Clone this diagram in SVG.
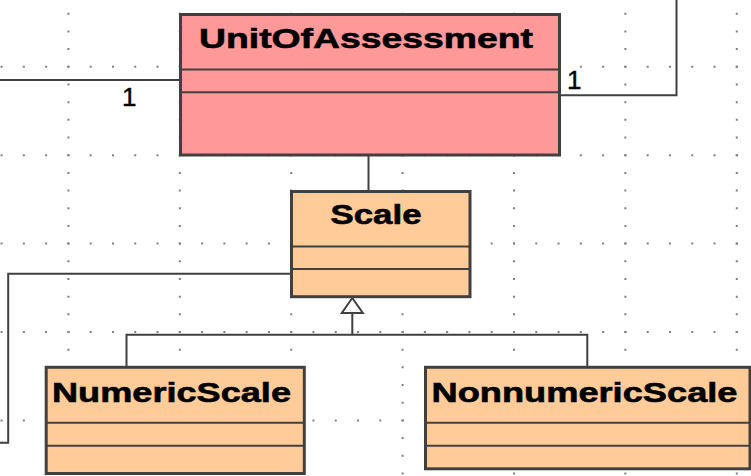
<svg xmlns="http://www.w3.org/2000/svg" width="751" height="476" viewBox="0 0 751 476">
<style>
.gh{stroke:#808080;stroke-width:2;stroke-dasharray:2 20.28;fill:none}
.gv{stroke:#808080;stroke-width:2;stroke-dasharray:2 15.68;fill:none}
.ln{stroke:#404040;stroke-width:2;fill:none}
.box{stroke:#404040;stroke-width:3}
.div{stroke:#404040;stroke-width:2;fill:none}
.pink{fill:#FF9999}
.orange{fill:#FFCC99}
.title{font-family:"Liberation Sans",Arial,sans-serif;font-weight:bold;font-size:28px;fill:#000;stroke:#000;stroke-width:0.6}
.mult{font-family:"Liberation Sans",Arial,sans-serif;font-size:26px;fill:#000;stroke:#000;stroke-width:0.4}
</style>
<rect x="0" y="0" width="751" height="476" fill="#ffffff"/>
<g id="grid">
<line class="gh" x1="0.56" y1="66.8" x2="751" y2="66.8"/>
<line class="gh" x1="0.56" y1="155.2" x2="751" y2="155.2"/>
<line class="gh" x1="0.56" y1="243.6" x2="751" y2="243.6"/>
<line class="gh" x1="0.56" y1="332" x2="751" y2="332"/>
<line class="gh" x1="0.56" y1="420.4" x2="751" y2="420.4"/>
<line class="gv" x1="68.4" y1="12.76" x2="68.4" y2="476"/>
<line class="gv" x1="179.8" y1="12.76" x2="179.8" y2="476"/>
<line class="gv" x1="291.2" y1="12.76" x2="291.2" y2="476"/>
<line class="gv" x1="402.6" y1="12.76" x2="402.6" y2="476"/>
<line class="gv" x1="514" y1="12.76" x2="514" y2="476"/>
<line class="gv" x1="625.4" y1="12.76" x2="625.4" y2="476"/>
<line class="gv" x1="736.8" y1="12.76" x2="736.8" y2="476"/>
</g>
<g id="connectors">
<polyline class="ln" points="0,80 180,80"/>
<polyline class="ln" points="560,95.3 676.5,95.3 676.5,0"/>
<polyline class="ln" points="368.5,155 368.5,191"/>
<polyline class="ln" points="291,273.7 8.2,273.7 8.2,442.8 0,442.8"/>
<polyline class="ln" points="352.3,313 352.3,334.8"/>
<polyline class="ln" points="126.5,367 126.5,334.8 587.3,334.8 587.3,367"/>
<polygon points="352.3,298 341.8,313 362.8,313" fill="#ffffff" stroke="#404040" stroke-width="2"/>
<text class="mult" x="122" y="105.5">1</text>
<text class="mult" x="567" y="88.8">1</text>
</g>
<g id="UnitOfAssessment">
<rect class="box pink" x="180.5" y="14.5" width="379" height="140.5"/>
<line class="div" x1="180.5" y1="69.5" x2="559.5" y2="69.5"/>
<line class="div" x1="180.5" y1="92.3" x2="559.5" y2="92.3"/>
<text class="title" x="199" y="48.3" textLength="334" lengthAdjust="spacingAndGlyphs">UnitOfAssessment</text>
</g>
<g id="Scale">
<rect class="box orange" x="291.5" y="191.5" width="178.5" height="105.2"/>
<line class="div" x1="291.5" y1="246.5" x2="470" y2="246.5"/>
<line class="div" x1="291.5" y1="269" x2="470" y2="269"/>
<text class="title" x="330.5" y="224.3" textLength="91" lengthAdjust="spacingAndGlyphs">Scale</text>
</g>
<g id="NumericScale">
<rect class="box orange" x="46.2" y="367.3" width="258.1" height="106.2"/>
<line class="div" x1="46.2" y1="422.8" x2="304.3" y2="422.8"/>
<line class="div" x1="46.2" y1="445.7" x2="304.3" y2="445.7"/>
<text class="title" x="52" y="402" textLength="239" lengthAdjust="spacingAndGlyphs">NumericScale</text>
</g>
<g id="NonnumericScale">
<rect class="box orange" x="425.5" y="367.3" width="324.5" height="101.5"/>
<line class="div" x1="425.5" y1="422.8" x2="750" y2="422.8"/>
<line class="div" x1="425.5" y1="445.7" x2="750" y2="445.7"/>
<text class="title" x="431.5" y="402" textLength="306" lengthAdjust="spacingAndGlyphs">NonnumericScale</text>
</g>
</svg>
